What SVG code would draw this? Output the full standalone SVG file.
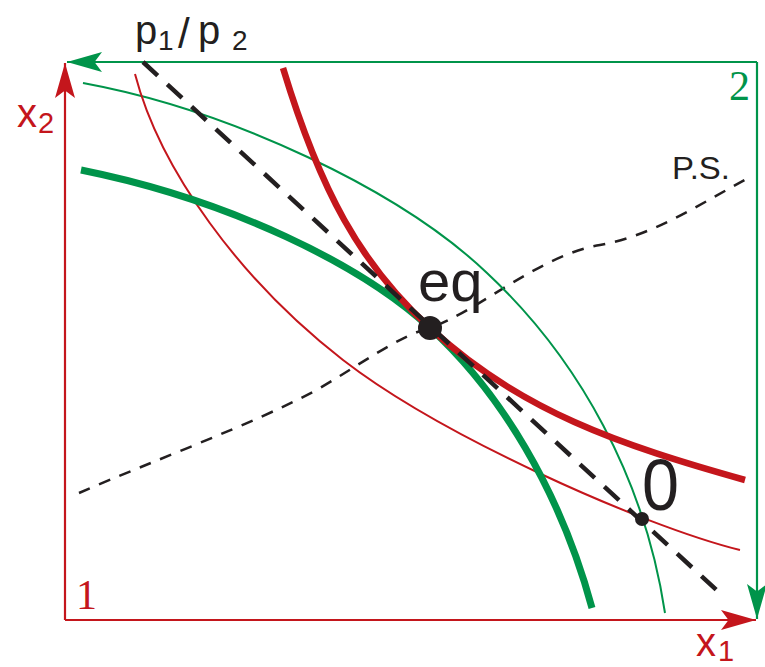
<svg xmlns="http://www.w3.org/2000/svg" width="765" height="667" viewBox="0 0 765 667">
<style>
.red{stroke:#c4161c;fill:none}
.green{stroke:#00944a;fill:none}
.thin{stroke-width:2}
.lbl{font-family:"Liberation Sans",Arial,sans-serif;fill:#231f20}
.serif{font-family:"Liberation Serif","Times New Roman",serif}
</style>
<defs>
<marker id="ar" markerUnits="userSpaceOnUse" markerWidth="40" markerHeight="30" viewBox="-30 -10 32 20" refX="0" refY="0" orient="auto">
<path d="M0,0 L-28,-8 L-22,0 L-28,8 Z" fill="#c4161c"/>
</marker>
<marker id="ag" markerUnits="userSpaceOnUse" markerWidth="40" markerHeight="30" viewBox="-30 -10 32 20" refX="0" refY="0" orient="auto">
<path d="M0,0 L-28,-8 L-22,0 L-28,8 Z" fill="#00944a"/>
</marker>
</defs>
<rect width="765" height="667" fill="#fff"/>
<g id="axes">
<path class="red" stroke-width="2.2" d="M65,620 L65,63" marker-end="url(#ar)"/>
<path class="red" stroke-width="2.2" d="M65,620 L756,620" marker-end="url(#ar)"/>
<path class="green" stroke-width="2.2" d="M757,62 L67,62" marker-end="url(#ag)"/>
<path class="green" stroke-width="2.2" d="M757,62 L757,619" marker-end="url(#ag)"/>
</g>
<g id="curves">
<path id="ps" d="M79,493 C150,462 250,425 313,392 C360,365 400,335 430,328 C480,310 540,255 600,245 C650,236 690,210 750,177" fill="none" stroke="#231f20" stroke-width="2.5" stroke-dasharray="12 10"/>
<path id="green-thin" class="green thin" d="M83,83 C230,110 400,190 487,273 C580,360 645,480 665,613"/>
<path id="red-thin" class="red thin" d="M135,74 C160,170 240,280 343,360 C440,435 640,525 740,550"/>
<path id="green-thick" class="green" stroke-width="7" d="M81,170 C230,200 362,265 430,328 C500,392 560,490 592,608"/>
<path id="red-thick" class="red" stroke-width="6.5" d="M283,68 C320,190 360,264 430,328 C520,411 620,445 745,480"/>
<path id="price" d="M143,62 L722,595" fill="none" stroke="#231f20" stroke-width="4.5" stroke-dasharray="20 13"/>
</g>
<g id="eq">
<circle cx="430" cy="328" r="12" fill="#231f20"/>
<text class="lbl" x="418" y="301" font-size="58">eq</text>
</g>
<g id="zero">
<circle cx="642" cy="519" r="7" fill="#231f20"/>
<text class="lbl" x="642" y="510" font-size="72" textLength="37" lengthAdjust="spacingAndGlyphs">0</text>
</g>
<g id="labels">
<text class="lbl" y="44" font-size="40"><tspan x="135">p</tspan><tspan x="158" y="50" font-size="28">1</tspan><tspan x="178" y="48" font-size="42" font-weight="300">/</tspan><tspan x="198" y="44">p</tspan><tspan x="232" y="50" font-size="28">2</tspan></text>
<text class="lbl" x="672" y="179" font-size="31" textLength="58" lengthAdjust="spacingAndGlyphs">P.S.</text>
<text x="17" y="127" font-size="40" fill="#c4161c" font-family="Liberation Sans,Arial,sans-serif">x<tspan x="38" y="133" font-size="29">2</tspan></text>
<text x="696" y="656" font-size="40" fill="#c4161c" font-family="Liberation Sans,Arial,sans-serif">x<tspan x="718" y="661" font-size="29">1</tspan></text>
<text class="serif" x="76" y="609" font-size="42" fill="#c4161c">1</text>
<text class="serif" x="750" y="100" font-size="42" fill="#00944a" text-anchor="end">2</text>
</g>
</svg>
